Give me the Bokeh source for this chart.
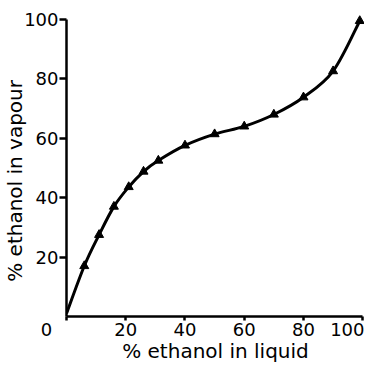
import numpy as np
from bokeh.plotting import figure
from bokeh.models import FixedTicker, Range1d
from bokeh.embed import file_html
from bokeh.resources import INLINE

# data
liquid = [0, 6, 11, 16, 21, 26, 31, 40, 50, 60, 70, 80, 90, 99]
vapour = [1, 17, 27.5, 37, 43.6, 48.8, 52.5, 57.6, 61.4, 64, 68, 73.8, 82.6, 99.5]
marker_idx = list(range(1, len(liquid)))
x_tick_values = [0, 20, 40, 60, 80, 100]
y_tick_values = [20, 40, 60, 80, 100]
origin_label = "0" + "\u00a0" * 7
x_title = "% ethanol in liquid"
y_title = "% ethanol in vapour" + "\u00a0" * 5

FONT = "DejaVu Sans"
TICK_FS = "18px"
TITLE_FS = "20px"

p = figure(width=364, height=365, output_backend="svg", toolbar_location=None,
           x_range=Range1d(0, 100.6), y_range=Range1d(0, 102),
           min_border_left=66, min_border_right=0, min_border_top=13, min_border_bottom=49)
p.outline_line_color = None
p.grid.visible = False
p.background_fill_color = "white"
p.border_fill_color = "white"

# smooth curve through the points (Catmull-Rom rendered as bezier segments)
px = np.array(liquid, dtype=float)
py = np.array(vapour, dtype=float)
x0 = px[:-1]; y0 = py[:-1]; x1 = px[1:]; y1 = py[1:]
xm = np.concatenate([[px[0]], px[:-2]]); ym = np.concatenate([[py[0]], py[:-2]])
xp = np.concatenate([px[2:], [px[-1]]]); yp = np.concatenate([py[2:], [py[-1]]])
cx0 = x0 + (x1 - xm) / 6.0; cy0 = y0 + (y1 - ym) / 6.0
cx1 = x1 - (xp - x0) / 6.0; cy1 = y1 - (yp - y0) / 6.0
p.bezier(x0=x0, y0=y0, x1=x1, y1=y1, cx0=cx0, cy0=cy0, cx1=cx1, cy1=cy1,
         line_color="black", line_width=3)

p.scatter([liquid[i] for i in marker_idx], [vapour[i] for i in marker_idx],
          marker="triangle", size=9, fill_color="black", line_color="black")

for ax in (p.xaxis[0], p.yaxis[0]):
    ax.bounds = (0, 100)
    ax.axis_line_width = 2.5
    ax.axis_line_color = "black"
    ax.major_tick_line_width = 2.5
    ax.major_tick_line_color = "black"
    ax.major_tick_in = 0
    ax.minor_tick_line_color = None
    ax.major_label_text_font = FONT
    ax.major_label_text_font_size = TICK_FS
    ax.major_label_text_color = "black"
    ax.axis_label_text_font = FONT
    ax.axis_label_text_font_size = TITLE_FS
    ax.axis_label_text_font_style = "normal"
    ax.axis_label_text_color = "black"

p.xaxis[0].ticker = FixedTicker(ticks=x_tick_values)
p.xaxis[0].major_label_overrides = {0: origin_label}
p.xaxis[0].axis_label = x_title
p.xaxis[0].major_tick_out = 4
p.xaxis[0].major_label_standoff = -2
p.xaxis[0].axis_label_standoff = -4

p.yaxis[0].ticker = FixedTicker(ticks=y_tick_values)
p.yaxis[0].axis_label = y_title
p.yaxis[0].major_tick_out = 7
p.yaxis[0].major_label_standoff = 1
p.yaxis[0].axis_label_standoff = -6

open("out.html", "w").write(file_html(p, INLINE))
